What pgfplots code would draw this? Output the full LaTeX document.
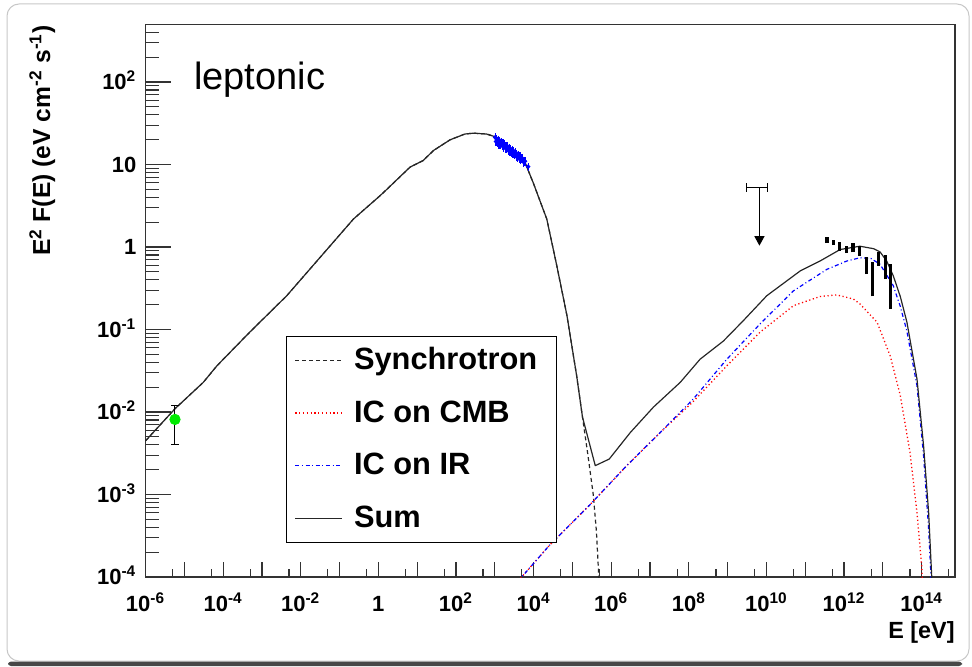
\documentclass[border=0pt]{standalone}
\usepackage{fontspec}
\setmainfont{Liberation Sans}
\usepackage{pgfplots}
\pgfplotsset{compat=1.18}
\usetikzlibrary{arrows.meta}
\definecolor{brightgreen}{RGB}{0,235,0}
\begin{document}
\begin{tikzpicture}
\useasboundingbox (0,0) rectangle (486pt,333pt);
\draw[black!22, line width=0.5pt, rounded corners=6pt] (3.5pt,2.5pt) rectangle (484.5pt,331pt);
\fill[black!72, rounded corners=1.5pt] (4pt,0pt) rectangle (481pt,2.2pt);
\begin{loglogaxis}[
  at={(72.75pt,44.5pt)}, anchor=south west,
  scale only axis, width=404.75pt, height=276.35pt,
  xmin=1e-6, xmax=7.24e14, ymin=1e-4, ymax=501,
  tick pos=left, tick align=inside,
  axis line style={black!80, line width=0.6pt},
  xtick={1e-6,1e-5,1e-4,1e-3,1e-2,1e-1,1,1e1,1e2,1e3,1e4,1e5,1e6,1e7,1e8,1e9,1e10,1e11,1e12,1e13,1e14},
  xticklabels={10\textsuperscript{-6},{},10\textsuperscript{-4},{},10\textsuperscript{-2},{},1,{},10\textsuperscript{2},{},10\textsuperscript{4},{},10\textsuperscript{6},{},10\textsuperscript{8},{},10\textsuperscript{10},{},10\textsuperscript{12},{},10\textsuperscript{14}},
  minor xtick={5e-6,5e-5,5e-4,5e-3,5e-2,0.5,5,50,500,5e3,5e4,5e5,5e6,5e7,5e8,5e9,5e10,5e11,5e12,5e13,5e14},
  ytick={1e-4,1e-3,1e-2,0.1,1,10,100},
  yticklabels={10\textsuperscript{-4},10\textsuperscript{-3},10\textsuperscript{-2},10\textsuperscript{-1},1,10,10\textsuperscript{2}},
  minor ytick={2e-4,3e-4,4e-4,5e-4,6e-4,7e-4,8e-4,9e-4,2e-3,3e-3,4e-3,5e-3,6e-3,7e-3,8e-3,9e-3,2e-2,3e-2,4e-2,5e-2,6e-2,7e-2,8e-2,9e-2,0.2,0.3,0.4,0.5,0.6,0.7,0.8,0.9,2,3,4,5,6,7,8,9,20,30,40,50,60,70,80,90,200,300,400},
  xtick style={black!80, line width=0.6pt, /pgfplots/major tick length=7.5pt, /pgfplots/minor tick length=4pt},
  ytick style={black!80, line width=0.6pt, /pgfplots/major tick length=13pt, /pgfplots/minor tick length=7pt},
  ticklabel style={font=\bfseries\fontsize{11}{13}\selectfont},
  xticklabel style={anchor=base, inner sep=0pt, yshift=-17.3pt},
  yticklabel style={anchor=base east, inner sep=0pt, xshift=-4.4pt, yshift=-3.9pt},
  legend style={at={(rel axis cs:0.1736,0.0616)}, anchor=south west, draw=black, line width=0.6pt, fill=white,
    font=\bfseries\fontsize{15.4}{18}\selectfont, inner xsep=4pt, inner ysep=0pt, row sep=2.35pt,
    nodes={inner xsep=5.5pt, minimum height=24pt}},
  legend cell align=left,
  legend image code/.code={\draw[#1, line width=0.7pt] (0pt,0pt) -- (23.5pt,0pt);},
  clip=true,
]
% Synchrotron
\addplot[black!85, line width=0.6pt, dash pattern=on 2pt off 1.5pt] coordinates {
(1e-6,4.467e-3) (5.754e-6,1.096e-2) (3.090e-5,2.291e-2) (6.918e-5,3.631e-2) (4.898e-4,9.333e-2)
(4.365e-3,0.2570) (3.162e-2,0.7499) (0.2291,2.188) (1.096,4.169) (1.660,5.012) (6.607,9.333)
(14.45,11.22) (26.30,14.79) (70.79,19.95) (169.8,23.44) (281.8,23.99) (616.6,23.44) (1122,21.38)
(2455,16.22) (5495,11.75) (9772,6.026) (2.188e4,2.188) (3.981e4,0.5888) (7.244e4,0.1479)
(1.288e5,2.754e-2) (1.820e5,8.710e-3) (2.512e5,3.020e-3) (3.467e5,9.772e-4) (4.169e5,3.548e-4)
(4.677e5,1.259e-4) (5.248e5,3.981e-5)
};
\addlegendentry{Synchrotron}
% IC on CMB
\addplot[red, line width=0.65pt, dash pattern=on 0.6pt off 1.3pt] coordinates {
(3981,8.913e-5) (2.630e4,2.455e-4) (2.884e5,7.586e-4) (2.512e6,2.239e-3) (1.820e7,5.623e-3)
(1.318e8,1.349e-2) (9.550e8,3.631e-2) (6.918e9,9.333e-2) (5.012e10,0.1950) (2.399e11,0.2512)
(6.457e11,0.2630) (1.738e12,0.2344) (2.570e12,0.2042) (7.079e12,0.1230) (1.549e13,4.786e-2)
(2.818e13,1.585e-2) (5.012e13,3.236e-3) (7.586e13,6.026e-4) (1.0e14,1.380e-4) (1.122e14,5.012e-5)
};
\addlegendentry{IC on CMB}
% IC on IR
\addplot[blue, line width=0.6pt, dash pattern=on 2pt off 1.3pt on 0.5pt off 1.3pt] coordinates {
(3981,8.913e-5) (2.630e4,2.455e-4) (2.884e5,7.586e-4) (2.512e6,2.239e-3) (1.820e7,5.623e-3)
(1.318e8,1.445e-2) (9.550e8,4.365e-2) (6.918e9,0.1175) (5.012e10,0.2951) (3.631e11,0.5370)
(1.175e12,0.6761) (2.570e12,0.7413) (5.012e12,0.7244) (8.511e12,0.6166) (1.862e13,0.3388)
(2.818e13,0.1905) (4.169e13,9.550e-2) (7.586e13,2.089e-2) (1.122e14,2.951e-3) (1.514e14,3.802e-4)
(1.738e14,1.047e-4) (1.905e14,3.981e-5)
};
\addlegendentry{IC on IR}
% Sum
\addplot[black!85, line width=0.6pt, line join=round] coordinates {
(1e-6,4.467e-3) (5.754e-6,1.096e-2) (3.090e-5,2.291e-2) (6.918e-5,3.631e-2) (4.898e-4,9.333e-2)
(4.365e-3,0.2570) (3.162e-2,0.7499) (0.2291,2.188) (1.096,4.169) (1.660,5.012) (6.607,9.333)
(14.45,11.22) (26.30,14.79) (70.79,19.95) (169.8,23.44) (281.8,23.99) (616.6,23.44) (1122,21.38)
(2455,16.22) (5495,11.75) (9772,6.026) (2.188e4,2.188) (3.981e4,0.5888) (7.244e4,0.1479)
(1.288e5,2.754e-2) (1.820e5,8.710e-3) (3.890e5,2.239e-3) (8.913e5,2.692e-3) (3.090e6,5.623e-3)
(1.230e7,1.148e-2) (6.026e7,2.291e-2) (1.950e8,4.365e-2) (7.762e8,7.244e-2) (2.570e9,0.1288)
(1.023e10,0.2570) (7.413e10,0.5129) (2.399e11,0.6761) (7.943e11,0.9333) (2.570e12,1.023)
(5.754e12,0.9550) (8.511e12,0.8710) (1.259e13,0.6761) (1.862e13,0.4467) (2.818e13,0.2512)
(4.169e13,0.1230) (7.586e13,2.512e-2) (1.122e14,3.890e-3) (1.514e14,6.026e-4) (1.820e14,1.0e-4)
(1.995e14,3.981e-5)
};
\addlegendentry{Sum}
% X-ray data (blue)
\addplot[blue, only marks, mark=*, mark size=0.9pt, forget plot,
  error bars/.cd, y dir=both, y fixed relative=0.12, error mark=none,
  error bar style={line width=0.6pt}] coordinates {
(1023,21.38) (1072,19.05) (1122,20.42) (1175,18.62) (1230,19.95) (1288,17.78) (1349,19.50)
(1413,17.38) (1479,18.62) (1549,16.98) (1622,18.20) (1698,16.22) (1778,17.78) (1862,15.85)
(1950,16.98) (2042,15.49) (2138,16.60) (2239,14.79) (2344,15.85) (2455,14.45) (2570,15.49)
(2692,14.13) (2818,15.14) (2951,13.49) (3090,14.45) (3236,13.18) (3388,14.13) (3548,12.59)
(3715,13.49) (3890,12.30) (4074,13.18) (4266,11.75) (4467,12.59) (4677,11.48) (5012,12.02)
(5495,10.72) (6026,10.96) (7244,9.44)
};
% radio point (green) with error bar
\addplot[black, line width=0.5pt, mark=-, mark size=2pt, forget plot] coordinates {(5.754e-6,4.07e-3) (5.754e-6,1.20e-2)};
\addplot[brightgreen, only marks, mark=*, mark size=2.6pt, forget plot] coordinates {(5.754e-6,8.13e-3)};
% upper limit
\addplot[black, line width=0.5pt, mark=|, mark size=2.2pt, forget plot] coordinates {(3.13e9,5.25) (1.07e10,5.25)};
\addplot[black, line width=0.5pt, -{Triangle[width=5pt,length=4.7pt]}, forget plot] coordinates {(6.61e9,5.25) (6.61e9,1.04)};
% TeV data (black bars)
\addplot[black, line width=1.6pt, forget plot] coordinates {(3.63e11,1.117) (3.63e11,1.312)};
\addplot[black, line width=1.6pt, forget plot] coordinates {(5.37e11,1.057) (5.37e11,1.227)};
\addplot[black, line width=1.6pt, forget plot] coordinates {(7.59e11,0.902) (7.59e11,1.140)};
\addplot[black, line width=1.6pt, forget plot] coordinates {(1.15e12,0.845) (1.15e12,1.038)};
\addplot[black, line width=1.6pt, forget plot] coordinates {(1.70e12,0.861) (1.70e12,1.117)};
\addplot[black, line width=1.6pt, forget plot] coordinates {(2.51e12,0.785) (2.51e12,1.019)};
\addplot[black, line width=1.6pt, forget plot] coordinates {(3.72e12,0.471) (3.72e12,0.750)};
\addplot[black, line width=1.6pt, forget plot] coordinates {(5.37e12,0.252) (5.37e12,0.653)};
\addplot[black, line width=1.6pt, forget plot] coordinates {(7.76e12,0.593) (7.76e12,0.861)};
\addplot[black, line width=1.6pt, forget plot] coordinates {(1.15e13,0.409) (1.15e13,0.800)};
\addplot[black, line width=1.6pt, forget plot] coordinates {(1.55e13,0.177) (1.55e13,0.622)};
\node[anchor=base west, font=\fontsize{19}{22}\selectfont] at (rel axis cs:0.0513,0.882) {leptonic};
\end{loglogaxis}
\node[rotate=90, anchor=base east, inner sep=0pt, font=\bfseries\fontsize{12.3}{14}\selectfont] at (25pt,320.5pt) {E\textsuperscript{2} F(E) (eV cm\textsuperscript{-2} s\textsuperscript{-1})};
\node[anchor=base east, inner sep=0pt, font=\bfseries\fontsize{11.7}{14}\selectfont] at (477.5pt,14pt) {E [eV]};
\end{tikzpicture}
\end{document}
